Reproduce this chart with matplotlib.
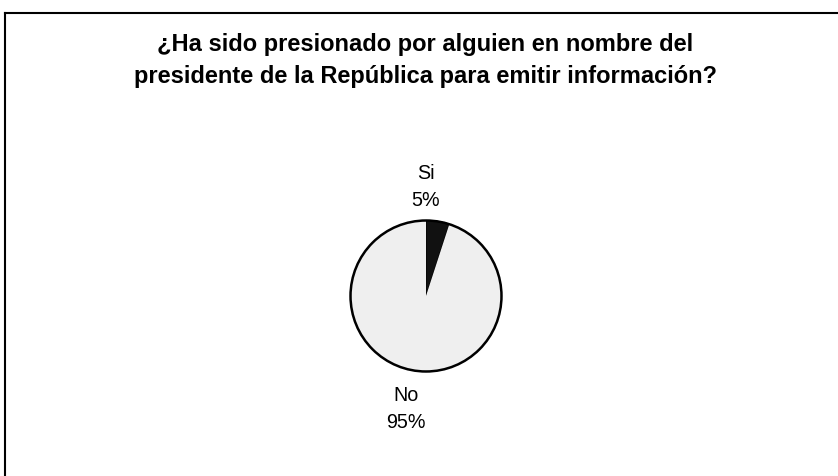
import matplotlib
matplotlib.use('Agg')
import matplotlib.pyplot as plt
from matplotlib.lines import Line2D

plt.rcParams['font.family'] = ['Liberation Sans', 'DejaVu Sans']

# Data
labels = ['Si', 'No']
values = [5, 95]
colors = ['#111111', '#efefef']

title = ('¿Ha sido presionado por alguien en nombre del\n'
         'presidente de la República para emitir información?')

W, H = 838, 476
fig = plt.figure(figsize=(W / 100, H / 100), dpi=100)

# frame lines (only top and left visible in the original)
fig.add_artist(Line2D([4.5 / W, 1], [1 - 12.5 / H, 1 - 12.5 / H], color='black', lw=1.5))
fig.add_artist(Line2D([4.5 / W, 4.5 / W], [0, 1 - 12.5 / H], color='black', lw=1.5))

fig.text(425 / W, 1 - 60.5 / H, title, ha='center', va='center',
         fontsize=17.0, fontweight='bold', linespacing=1.48)

# pie axes: center (426, 296), radius 77 px
cx, cy, r = 426, 296, 77
ax = fig.add_axes([(cx - r) / W, 1 - (cy + r) / H, 2 * r / W, 2 * r / H])
wedges, _ = ax.pie(values, colors=colors, startangle=90, counterclock=False,
                   wedgeprops=dict(edgecolor='black', linewidth=1.2))
wedges[1].set_edgecolor('none')
wedges[0].set_linewidth(0.8)
# outer circle outline
circle = plt.Circle((0, 0), 1, fill=False, edgecolor='black', linewidth=1.8)
ax.add_artist(circle)
ax.set_xlim(-1.02, 1.02)
ax.set_ylim(-1.02, 1.02)
ax.set_aspect('equal')
ax.axis('off')

# labels
label_pos = {'Si': (426, 187), 'No': (406, 409)}
for lab, val in zip(labels, values):
    x, y = label_pos[lab]
    fig.text(x / W, 1 - y / H, f'{lab}\n{val}%', ha='center', va='center',
             fontsize=14.2, linespacing=1.48)

plt.savefig('out.png', dpi=100)
